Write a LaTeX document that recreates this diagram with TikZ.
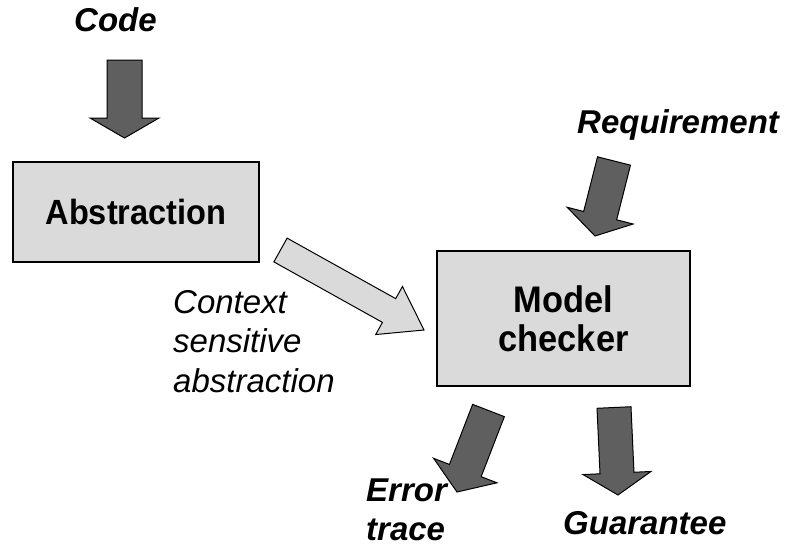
\documentclass[tikz,border=0pt]{standalone}
\usepackage{fontspec}
\setmainfont{Liberation Sans}
\newfontfamily\boxfont[FakeStretch=0.93]{Liberation Sans}
\usetikzlibrary{calc}
\definecolor{boxgray}{HTML}{DADADA}
\definecolor{arrowgray}{HTML}{5F5F5F}
% block arrow: #1 style, #2 tail centre, #3 tip, #4 half shaft width,
% #5 half head width, #6 head length
\newcommand\blockarrow[6]{%
  \path ($(#3)!#6!(#2)$) coordinate (hb);
  \draw[#1] ($(#2)!#4!90:(#3)$) -- ($(hb)!#4!-90:(#2)$)
    -- ($(hb)!#5!-90:(#2)$) -- (#3) -- ($(hb)!#5!90:(#2)$)
    -- ($(hb)!#4!90:(#2)$) -- ($(#2)!#4!-90:(#3)$) -- cycle;}
\begin{document}
\begin{tikzpicture}[x=1pt,y=-1pt,
  procbox/.style={draw=black, line width=1.3pt, fill=boxgray, inner sep=0pt, align=center},
  lbl/.style={inner sep=0pt, font=\bfseries\itshape\fontsize{33}{39}\selectfont},
  note/.style={inner sep=0pt, font=\itshape\fontsize{33}{39.5}\selectfont},
  darkarrow/.style={draw=black, line width=1pt, fill=arrowgray, line join=miter},
  lightarrow/.style={draw=black, line width=1pt, fill=boxgray, line join=miter}]
\useasboundingbox (0,0) rectangle (786,552);

% processing boxes
\node[procbox, minimum width=246pt, minimum height=100pt,
  font=\boxfont\bfseries\fontsize{35}{40}\selectfont] (abs) at (136,212) {Abstraction};
\node[procbox, minimum width=253pt, minimum height=135pt,
  font=\boxfont\bfseries\fontsize{37}{39}\selectfont] (mc) at (563.5,318.5) {Model\\checker};

% labels
\node[lbl, anchor=base west] (code) at (74,31) {Code};
\node[lbl, anchor=base west] (req) at (577,133) {Requirement};
\node[note, anchor=north west, align=left] (ctx) at (173,290) {Context\\sensitive\\abstraction};
\node[lbl, anchor=north west, align=left] (err) at (366,479) {Error\\trace};
\node[lbl, anchor=base west] (guar) at (563,534) {Guarantee};

% arrow end points
\coordinate (code-s) at (124.5,60);   \coordinate (code-t) at (124.5,138);
\coordinate (req-s)  at (614,161);    \coordinate (req-t)  at (595,236);
\coordinate (ctx-s)  at (280.5,250);  \coordinate (ctx-t)  at (424,330);
\coordinate (err-s)  at (488.5,410.5);\coordinate (err-t)  at (457,492);
\coordinate (gua-s)  at (614,407.5);  \coordinate (gua-t)  at (618,495);

% arrows
\blockarrow{darkarrow}{code-s}{code-t}{17.5pt}{34.5pt}{20pt}
\blockarrow{darkarrow}{req-s}{req-t}{17pt}{34pt}{21pt}
\blockarrow{lightarrow}{ctx-s}{ctx-t}{13.6pt}{27.5pt}{40pt}
\blockarrow{darkarrow}{err-s}{err-t}{17pt}{34pt}{23pt}
\blockarrow{darkarrow}{gua-s}{gua-t}{17pt}{34pt}{22pt}
\end{tikzpicture}
\end{document}
